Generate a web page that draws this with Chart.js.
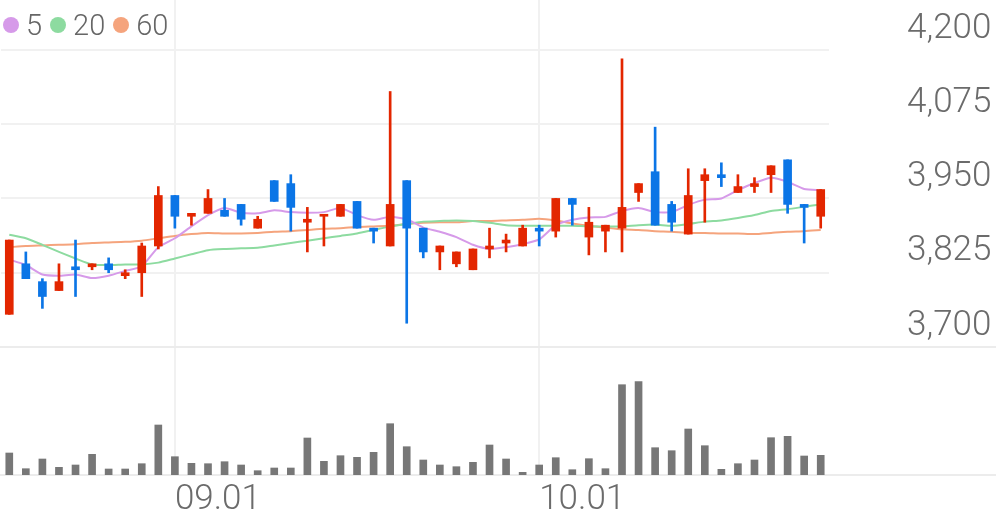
<!DOCTYPE html>
<html>
<head>
<meta charset="utf-8">
<script src="https://cdn.jsdelivr.net/npm/chart.js@4.4.0/dist/chart.umd.min.js"></script>
<style>
  html, body { margin: 0; padding: 0; background: #fff; }
  #wrap { position: relative; width: 996px; height: 519px; }
  #legend { position: absolute; left: 3px; top: 8px; display: flex; align-items: center;
            font: 300 29px Roboto, sans-serif; color: #666; }
  #legend .item { display: flex; align-items: center; margin-right: 8px; }
  #legend .dot { width: 16px; height: 16px; border-radius: 50%; margin-right: 7px; }
</style>
</head>
<body>
<div id="wrap">
  <canvas id="stockChart" width="996" height="519"></canvas>
  <div id="legend"></div>
</div>
<script>
const labels = [
  '08.18','08.19','08.20','08.21','08.24','08.25','08.26','08.27','08.28','08.31',
  '09.01','09.02','09.03','09.04','09.07','09.08','09.09','09.10','09.11','09.14',
  '09.15','09.16','09.17','09.18','09.21','09.22','09.23','09.24','09.25','09.28',
  '09.29','09.30','10.01','10.02','10.05','10.06','10.07','10.08','10.09','10.12',
  '10.13','10.14','10.15','10.16','10.19','10.20','10.21','10.22','10.23','10.26'
];

const openPrices = [
  3755, 3840, 3810, 3795, 3835, 3835, 3840, 3820, 3825, 3870,
  3955, 3920, 3925, 3930, 3940, 3900, 3980, 3975, 3910, 3920,
  3920, 3945, 3900, 3870, 3980, 3900, 3860, 3840, 3830, 3865,
  3875, 3870, 3900, 3895, 3950, 3885, 3895, 3900, 3960, 3995,
  3940, 3890, 3980, 3990, 3960, 3970, 3990, 4015, 3940, 3920
];
const highPrices = [
  3880, 3860, 3815, 3840, 3880, 3840, 3850, 3830, 3875, 3970,
  3955, 3925, 3965, 3950, 3940, 3920, 3980, 3990, 3935, 3920,
  3940, 3945, 3900, 4130, 3980, 3900, 3870, 3860, 3865, 3900,
  3890, 3905, 3905, 3950, 3950, 3935, 3905, 4185, 3975, 4070,
  3945, 4000, 4000, 4010, 3990, 3985, 4005, 4015, 3940, 3965
];
const lowPrices = [
  3755, 3815, 3765, 3795, 3785, 3830, 3825, 3815, 3785, 3865,
  3900, 3905, 3925, 3920, 3905, 3900, 3945, 3895, 3860, 3870,
  3920, 3900, 3875, 3870, 3740, 3850, 3830, 3835, 3830, 3850,
  3860, 3870, 3870, 3885, 3905, 3855, 3860, 3860, 3945, 3905,
  3895, 3890, 3910, 3970, 3960, 3960, 3960, 3925, 3875, 3900
];
const closePrices = [
  3880, 3815, 3785, 3810, 3830, 3840, 3830, 3825, 3870, 3955,
  3920, 3925, 3950, 3920, 3915, 3915, 3945, 3935, 3915, 3920,
  3940, 3900, 3895, 3940, 3900, 3860, 3870, 3860, 3865, 3870,
  3880, 3900, 3895, 3950, 3940, 3910, 3905, 3935, 3975, 3905,
  3910, 3955, 3990, 3985, 3970, 3975, 4005, 3940, 3935, 3965
];

const ma5 = [
  3847, 3838, 3822, 3820, 3822, 3816, 3820, 3828, 3836, 3868,
  3883, 3903, 3922, 3934, 3926, 3925, 3930, 3927, 3926, 3927,
  3934, 3922, 3914, 3919, 3915, 3901, 3894, 3885, 3872, 3865,
  3868, 3873, 3881, 3905, 3914, 3918, 3919, 3929, 3934, 3927,
  3927, 3939, 3948, 3950, 3964, 3976, 3985, 3978, 3966, 3964
];
const ma20 = [
  3889, 3883, 3872, 3860, 3849, 3839, 3838, 3839, 3839, 3842,
  3849, 3856, 3863, 3865, 3866, 3867, 3871, 3875, 3879, 3883,
  3887, 3891, 3897, 3903, 3907, 3911, 3912, 3913, 3912, 3909,
  3905, 3904, 3904, 3904, 3904, 3903, 3903, 3903, 3905, 3906,
  3904, 3907, 3911, 3913, 3917, 3922, 3929, 3932, 3936, 3940
];
const ma60 = [
  3868, 3870, 3871, 3872, 3873, 3875, 3876, 3877, 3879, 3883,
  3887, 3890, 3892, 3891, 3891, 3892, 3894, 3895, 3897, 3899,
  3900, 3902, 3903, 3904, 3907, 3909, 3910, 3910, 3912, 3912,
  3913, 3914, 3916, 3913, 3908, 3904, 3901, 3898, 3897, 3895,
  3894, 3892, 3892, 3891, 3891, 3890, 3892, 3894, 3895, 3897
];

const volumes = [
  220000,  63000, 160000,  77000, 100000, 207000,  60000,  60000, 113000, 500000,
  183000, 117000, 113000, 133000, 100000,  43000,  70000,  70000, 370000, 137000,
  193000, 177000, 227000, 513000, 283000, 150000, 100000,  83000, 127000, 300000,
  160000,  27000, 100000, 173000,  53000, 163000,  63000, 903000, 933000, 273000,
  243000, 460000, 293000,  57000, 113000, 150000, 373000, 387000, 190000, 197000
];

const priceTicks = [3700, 3825, 3950, 4075, 4200];
const maNames = ['5', '20', '60'];
const maColors = ['#d69ae9', '#8ddba0', '#f5a47d'];

const UP = '#e32600';
const DOWN = '#0b75e6';
const candleColors = closePrices.map((c, i) => c >= openPrices[i] ? UP : DOWN);

// legend drawn as html on top of the chart area
const legendEl = document.getElementById('legend');
maNames.forEach((name, i) => {
    const item = document.createElement('div');
    item.className = 'item';
    item.innerHTML = `<span class="dot" style="background:${maColors[i]}"></span><span>${name}</span>`;
    legendEl.appendChild(item);
});

const panelLines = {
    id: 'panelLines',
    beforeDatasetsDraw(chart) {
        const { ctx, scales } = chart;
        ctx.save();
        ctx.strokeStyle = '#ececec';
        ctx.lineWidth = 2;
        [scales.yVol.top, scales.yVol.bottom].forEach(y => {
            ctx.beginPath();
            ctx.moveTo(0, y);
            ctx.lineTo(chart.width, y);
            ctx.stroke();
        });
        ctx.restore();
    }
};

const ctx = document.getElementById('stockChart').getContext('2d');
new Chart(ctx, {
    type: 'bar',
    data: {
        labels: labels,
        datasets: [
            ...maNames.map((name, i) => ({
                type: 'line',
                label: name,
                data: [ma5, ma20, ma60][i],
                borderColor: maColors[i],
                borderWidth: 2,
                pointRadius: 0,
                tension: 0.2,
                yAxisID: 'yPrice',
                order: 3
            })),
            {
                label: 'wick',
                data: lowPrices.map((l, i) => [l, highPrices[i]]),
                backgroundColor: candleColors,
                barThickness: 2,
                grouped: false,
                yAxisID: 'yPrice',
                order: 2
            },
            {
                label: 'body',
                data: openPrices.map((o, i) => [o, closePrices[i]]),
                backgroundColor: candleColors,
                barThickness: 8,
                minBarLength: 2,
                grouped: false,
                yAxisID: 'yPrice',
                order: 1
            },
            {
                label: 'volume',
                data: volumes,
                backgroundColor: '#777777',
                barThickness: 7,
                grouped: false,
                yAxisID: 'yVol',
                order: 1
            }
        ]
    },
    options: {
        responsive: false,
        animation: false,
        layout: { padding: { left: 1 } },
        plugins: {
            legend: { display: false },
            tooltip: { enabled: false }
        },
        scales: {
            x: {
                offset: true,
                border: { display: false },
                grid: {
                    offset: false,
                    drawTicks: false,
                    lineWidth: 2,
                    color: c => labels[c.index] && labels[c.index].endsWith('.01') ? '#f1f1f1' : 'rgba(0,0,0,0)'
                },
                ticks: {
                    autoSkip: false,
                    maxRotation: 0,
                    align: 'start',
                    padding: 4,
                    color: '#6b6b6b',
                    font: { family: 'Roboto', size: 35, weight: 300 },
                    callback: (v, i) => labels[i].endsWith('.01') ? labels[i] : ''
                },
                afterFit: s => { s.height = 44; s.paddingLeft = 0; s.paddingRight = 0; }
            },
            yPrice: {
                position: 'right',
                stack: 'panel',
                stackWeight: 347,
                min: 3700,
                max: 4284,
                border: { display: false },
                grid: { color: '#f1f1f1', lineWidth: 2, drawTicks: false },
                afterBuildTicks: s => { s.ticks = priceTicks.map(v => ({ value: v })); },
                ticks: {
                    autoSkip: false,
                    crossAlign: 'near',
                    padding: 78,
                    labelOffset: -21,
                    color: '#6b6b6b',
                    font: { family: 'Roboto', size: 35, weight: 300 },
                    callback: v => v.toLocaleString('en-US')
                },
                afterFit: s => { s.width = 167; s.paddingTop = 0; s.paddingBottom = 0; }
            },
            yVol: {
                position: 'right',
                stack: 'panel',
                stackWeight: 128,
                min: 0,
                max: 1280000,
                border: { display: false },
                grid: { display: false },
                ticks: { display: false }
            }
        }
    },
    plugins: [panelLines]
});
</script>
</body>
</html>
